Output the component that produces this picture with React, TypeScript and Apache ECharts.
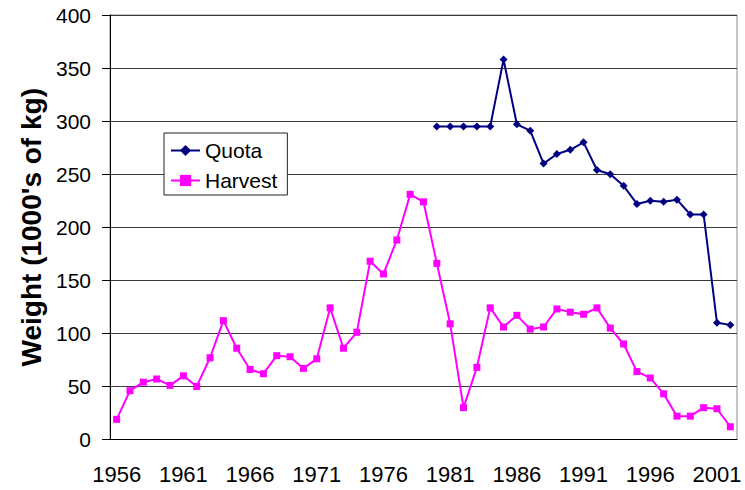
import React, { useEffect, useRef } from "react";
import * as echarts from "echarts";

const years = [
  "1956", "1957", "1958", "1959", "1960", "1961", "1962", "1963", "1964", "1965",
  "1966", "1967", "1968", "1969", "1970", "1971", "1972", "1973", "1974", "1975",
  "1976", "1977", "1978", "1979", "1980", "1981", "1982", "1983", "1984", "1985",
  "1986", "1987", "1988", "1989", "1990", "1991", "1992", "1993", "1994", "1995",
  "1996", "1997", "1998", "1999", "2000", "2001", "2002",
];

const harvest = [
  19, 46, 54, 57, 51, 60, 50, 77, 112, 86,
  66, 62, 79, 78, 67, 76, 124, 86, 101, 168,
  156, 188, 231, 224, 166, 109, 30, 68, 124, 106,
  117, 104, 106, 123, 120, 118, 124, 105, 90, 64,
  58, 43, 22, 22, 30, 29, 12,
];

const quota = [
  null, null, null, null, null, null, null, null, null, null,
  null, null, null, null, null, null, null, null, null, null,
  null, null, null, null, 295, 295, 295, 295, 295, 358,
  297, 291, 260, 269, 273, 280, 254, 250, 239, 222,
  225, 224, 226, 212, 212, 110, 108,
];

const FONT = "'Liberation Sans', Arial, sans-serif";

export default function App() {
  const ref = useRef<HTMLDivElement>(null);
  useEffect(() => {
    if (!ref.current) return;
    const chart = echarts.init(ref.current, null, { renderer: "svg" });
    chart.setOption({
      animation: false,
      backgroundColor: "#ffffff",
      textStyle: { fontFamily: FONT },
      grid: {
        left: 110,
        right: 8,
        top: 15,
        bottom: 50.5,
        show: true,
        borderColor: "#8c8c8c",
        borderWidth: 1,
        backgroundColor: "transparent",
      },
      legend: {
        data: ["Quota", "Harvest"],
        orient: "vertical",
        left: 164,
        top: 133,
        itemWidth: 29,
        itemHeight: 14,
        itemGap: 9,
        padding: [7, 10, 4, 6],
        borderColor: "#222",
        borderWidth: 1,
        backgroundColor: "#fff",
        textStyle: { fontFamily: FONT, fontSize: 21, color: "#000" },
      },
      xAxis: {
        type: "category",
        data: years,
        boundaryGap: true,
        axisLine: { lineStyle: { color: "#000", width: 1 } },
        axisTick: { interval: 0, length: 6, lineStyle: { color: "#000" } },
        axisLabel: {
          interval: 4,
          margin: 24,
          fontSize: 22,
          color: "#000",
          fontFamily: FONT,
        },
        splitLine: { show: false },
      },
      yAxis: {
        type: "value",
        min: 0,
        max: 400,
        interval: 50,
        name: "Weight (1000's of kg)",
        nameLocation: "middle",
        nameGap: 63,
        nameTextStyle: { fontSize: 28, fontWeight: "bold", color: "#000", fontFamily: FONT },
        axisLine: { show: true, lineStyle: { color: "#000", width: 1 } },
        axisTick: { show: true, length: 8, lineStyle: { color: "#000" } },
        axisLabel: { margin: 19, fontSize: 21, color: "#000", fontFamily: FONT },
        splitLine: { show: true, lineStyle: { color: "#3a3a3a", width: 1 } },
      },
      series: [
        {
          name: "Quota",
          type: "line",
          data: quota,
          symbol: "diamond",
          symbolSize: 8,
          showAllSymbol: true,
          lineStyle: { color: "#000080", width: 2 },
          itemStyle: { color: "#000080" },
        },
        {
          name: "Harvest",
          type: "line",
          data: harvest,
          symbol: "rect",
          symbolSize: 7,
          showAllSymbol: true,
          lineStyle: { color: "#ff00ff", width: 2 },
          itemStyle: { color: "#ff00ff" },
        },
      ],
    });
    return () => chart.dispose();
  }, []);
  return <div ref={ref} style={{ width: 745, height: 490, position: "absolute", left: 0, top: 0 }} />;
}
